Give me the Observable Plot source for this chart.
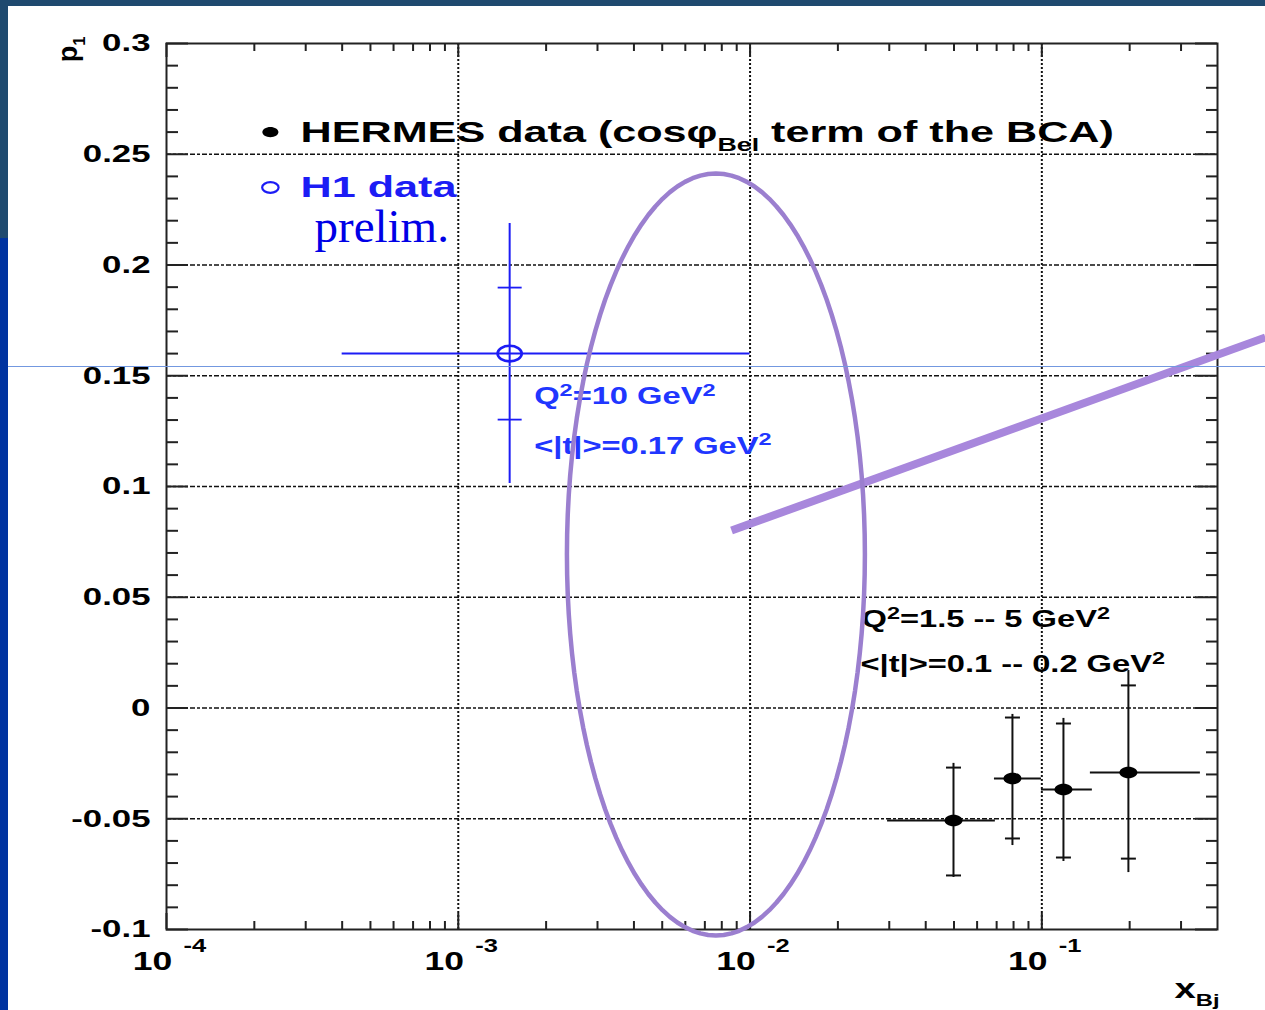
<!DOCTYPE html>
<html><head><meta charset="utf-8">
<script src="https://cdn.jsdelivr.net/npm/d3@7"></script>
<script src="https://cdn.jsdelivr.net/npm/@observablehq/plot@0.6"></script>
<style>
html,body{margin:0;padding:0;background:#fff;}
#page{position:relative;width:1265px;height:1010px;overflow:hidden;background:#fff;}
.deco{position:absolute;}
#chart{position:absolute;left:0;top:0;}
</style></head><body>
<div id="page">
  <div class="deco" style="left:0;top:0;width:1265px;height:6px;background:#1f4a6f"></div>
  <div class="deco" style="left:0;top:0;width:8px;height:238px;background:#1f4a6f"></div>
  <div class="deco" style="left:0;top:238px;width:8px;height:772px;background:#0033a0"></div>
  <div id="chart"></div>
  <div class="deco" style="left:8px;top:366px;width:1257px;height:1px;background:#7398e0"></div>
</div>
<script>
// ---------- data ----------
// HERMES (cos phi_Bel term of the BCA)
const hermesX    = [0.0498, 0.0793, 0.1186, 0.198];
const hermesY    = [-0.0508, -0.0318, -0.0368, -0.0291];
const hermesXLo  = [0.0296, 0.0688, 0.0997, 0.1467];
const hermesXHi  = [0.0693, 0.0997, 0.149, 0.3495];
const hermesYLo  = [-0.0765, -0.0621, -0.0693, -0.0743];
const hermesYHi  = [-0.025, -0.0029, -0.0047, 0.0169];
const hermesCapLo = [-0.0756, -0.0589, -0.0675, -0.068];
const hermesCapHi = [-0.0269, -0.0043, -0.007, 0.0102];

// H1 preliminary
const h1X = [0.0015];
const h1Y = [0.160];
const h1XLo = [0.0004];
const h1XHi = [0.01];
const h1YLo = [0.1014];
const h1YHi = [0.2187];
const h1StatLo = [0.1302];
const h1StatHi = [0.1898];

// axes
const yTickValues = [0.3, 0.25, 0.2, 0.15, 0.1, 0.05, 0, -0.05, -0.1];
const yTickLabels = ["0.3", "0.25", "0.2", "0.15", "0.1", "0.05", "0", "-0.05", "-0.1"];
const xTickValues = [1e-4, 1e-3, 1e-2, 1e-1];
const xTickBase = ["10", "10", "10", "10"];
const xTickExp = ["-4", "-3", "-2", "-1"];
const gridY = [0.25, 0.2, 0.15, 0.1, 0.05, 0, -0.05];
const gridX = [1e-3, 1e-2, 1e-1];

// legend / annotations
const legendMarkX = [2.27e-4];
const legendTextX = [2.88e-4];
const legendY = [0.2600, 0.2350];
const legendLabels = ["HERMES data (cos\u03c6_{Bel} term of the BCA)", "H1 data"];
const prelimText = ["prelim."];
const prelimX = [3.215e-4];
const prelimY = [0.2172];
const h1NoteX = [0.00182, 0.00182];
const h1NoteY = [0.1404, 0.1182];
const h1NoteText = ["Q^2=10 GeV^2", "<|t|>=0.17 GeV^2"];
const hermesNoteX = [0.0241, 0.0239];
const hermesNoteY = [0.0397, 0.0194];
const hermesNoteText = ["Q^2=1.5 -- 5 GeV^2", "<|t|>=0.1 -- 0.2 GeV^2"];

// slide overlay: ellipse around 10^-2 region and a pointer line
const ellipseCx = 0.007638, ellipseCy = 0.0693, ellipseRxDec = 0.5106, ellipseRy = 0.172;
const slantX = [0.00864, 0.5838];
const slantY = [0.0801, 0.1673];

// ---------- derived ----------
const yMinor = d3.range(-9, 30).filter(i => i % 5 !== 0).map(i => i / 100);
const xMinor = [];
for (let k = -4; k <= -1; k++) for (let m = 2; m <= 9; m++) { const v = m * 10 ** k; if (v < 0.4) xMinor.push(v); }

const hermes = hermesX.map((x, i) => ({x, y: hermesY[i], xlo: hermesXLo[i], xhi: hermesXHi[i], ylo: hermesYLo[i], yhi: hermesYHi[i], clo: hermesCapLo[i], chi: hermesCapHi[i]}));
const h1 = h1X.map((x, i) => ({x, y: h1Y[i], xlo: h1XLo[i], xhi: h1XHi[i], ylo: h1YLo[i], yhi: h1YHi[i], slo: h1StatLo[i], shi: h1StatHi[i]}));
const hermesCaps = hermes.flatMap(d => [{x: d.x, y: d.clo}, {x: d.x, y: d.chi}]);
const h1Caps = h1.flatMap(d => [{x: d.x, y: d.slo}, {x: d.x, y: d.shi}]);
const ellipsePts = d3.range(0, 361, 3).map(a => {
  const t = a * Math.PI / 180;
  return {x: 10 ** (Math.log10(ellipseCx) + ellipseRxDec * Math.cos(t)), y: ellipseCy + ellipseRy * Math.sin(t)};
});
const slant = slantX.map((x, i) => ({x, y: slantY[i]}));

// custom symbols
const ASPECT = 1.55;
const ellipseSymbol = {draw(ctx, size) {
  const r = Math.sqrt(size / Math.PI), rx = r * ASPECT, ry = r, k = 0.5523;
  ctx.moveTo(rx, 0);
  ctx.bezierCurveTo(rx, k * ry, k * rx, ry, 0, ry);
  ctx.bezierCurveTo(-k * rx, ry, -rx, k * ry, -rx, 0);
  ctx.bezierCurveTo(-rx, -k * ry, -k * rx, -ry, 0, -ry);
  ctx.bezierCurveTo(k * rx, -ry, rx, -k * ry, rx, 0);
  ctx.closePath();
}};
const capSymbol = {draw(ctx, size) {
  const r = Math.sqrt(size / Math.PI);
  ctx.moveTo(-r, 0); ctx.lineTo(r, 0);
}};

const W = 1265, H = 1010, ML = 166, MR = 48, MT = 43, MB = 81;
const FW = W - ML - MR, FH = H - MT - MB;
const BLUE = "#1c1cf5", NOTEBLUE = "#2036ff", INK = "#111";
const SANS = "Liberation Sans, Arial, Helvetica, sans-serif";

const chart = Plot.plot({
  width: W, height: H,
  marginLeft: ML, marginRight: MR, marginTop: MT, marginBottom: MB,
  x: {type: "log", domain: [1e-4, 0.4], axis: null},
  y: {domain: [-0.1, 0.3], axis: null},
  style: {background: "transparent", fontFamily: SANS, overflow: "visible"},
  marks: [
    // grid
    Plot.ruleY(gridY, {stroke: INK, strokeWidth: 1.4, strokeDasharray: "5,2,3,2"}),
    Plot.ruleX(gridX, {stroke: INK, strokeWidth: 2, strokeDasharray: "2,2"}),
    // ticks
    Plot.tickY(yMinor, {insetRight: FW - 12, stroke: "#222", strokeWidth: 2}),
    Plot.tickY(yTickValues, {insetRight: FW - 22, stroke: "#222", strokeWidth: 2}),
    Plot.tickY(yMinor, {insetLeft: FW - 11, stroke: "#222", strokeWidth: 2}),
    Plot.tickY(yTickValues, {insetLeft: FW - 22, stroke: "#222", strokeWidth: 2}),
    Plot.tickX(xMinor, {insetBottom: FH - 8, stroke: "#222", strokeWidth: 2}),
    Plot.tickX(xTickValues, {insetBottom: FH - 14, stroke: "#222", strokeWidth: 2}),
    Plot.tickX(xMinor, {insetTop: FH - 8, stroke: "#222", strokeWidth: 2}),
    Plot.tickX(xTickValues, {insetTop: FH - 16, stroke: "#222", strokeWidth: 2}),
    Plot.frame({stroke: "#222", strokeWidth: 2}),
    // tick labels
    Plot.text(yTickValues, {y: d => d, text: (d, i) => yTickLabels[i], frameAnchor: "left", dx: -16, textAnchor: "end", fontSize: 24.5, fontWeight: "bold", fill: "#000"}),
    Plot.text(xTickValues, {x: d => d, text: (d, i) => xTickBase[i], frameAnchor: "bottom", dx: -14, dy: 40, textAnchor: "middle", fontSize: 25, fontWeight: "bold", fill: "#000"}),
    Plot.text(xTickValues, {x: d => d, text: (d, i) => xTickExp[i], frameAnchor: "bottom", dx: 17, dy: 22, textAnchor: "start", fontSize: 18, fontWeight: "bold", fill: "#000"}),
    Plot.text(["x_{Bj}"], {frameAnchor: "bottom-right", textAnchor: "end", dx: 2, dy: 68, fontSize: 27, fontWeight: "bold", fill: "#000"}),
    Plot.text(["p_1"], {frameAnchor: "top-left", rotate: -90, textAnchor: "end", dx: -109, dy: -7, fontSize: 27, fontWeight: "bold", fill: "#000"}),
    // HERMES error bars
    Plot.ruleY(hermes, {y: "y", x1: "xlo", x2: "xhi", stroke: INK, strokeWidth: 2}),
    Plot.ruleX(hermes, {x: "x", y1: "ylo", y2: "yhi", stroke: INK, strokeWidth: 2}),
    Plot.dot(hermesCaps, {x: "x", y: "y", symbol: capSymbol, r: 7.5, stroke: INK, strokeWidth: 2, fill: "none"}),
    Plot.dot(hermes, {x: "x", y: "y", symbol: ellipseSymbol, r: 5.8, fill: "#000", stroke: "none"}),
    // H1 error bars
    Plot.ruleY(h1, {y: "y", x1: "xlo", x2: "xhi", stroke: BLUE, strokeWidth: 2}),
    Plot.ruleX(h1, {x: "x", y1: "ylo", y2: "yhi", stroke: BLUE, strokeWidth: 2}),
    Plot.dot(h1Caps, {x: "x", y: "y", symbol: capSymbol, r: 12, stroke: BLUE, strokeWidth: 1.8, fill: "none"}),
    Plot.dot(h1, {x: "x", y: "y", symbol: ellipseSymbol, r: 7.8, fill: "none", stroke: BLUE, strokeWidth: 2.6}),
    // legend
    Plot.dot([0], {x: () => legendMarkX[0], y: () => legendY[0], symbol: ellipseSymbol, r: 5.2, fill: "#000", stroke: "none"}),
    Plot.dot([1], {x: () => legendMarkX[0], y: () => legendY[1], symbol: ellipseSymbol, r: 5.3, fill: "none", stroke: BLUE, strokeWidth: 2.2}),
    Plot.text([0], {x: () => legendTextX[0], y: () => legendY[0], text: () => legendLabels[0], textAnchor: "start", fontSize: 30.4, fontWeight: "bold", fill: "#000"}),
    Plot.text([1], {x: () => legendTextX[0], y: () => legendY[1], text: () => legendLabels[1], textAnchor: "start", fontSize: 30.4, fontWeight: "bold", fill: BLUE}),
    Plot.text(prelimText, {x: () => prelimX[0], y: () => prelimY[0], textAnchor: "start", fontSize: 47, fontFamily: "Liberation Serif, Times New Roman, serif", fill: "#0000e6"}),
    // annotations
    Plot.text(h1NoteText, {x: (d, i) => h1NoteX[i], y: (d, i) => h1NoteY[i], textAnchor: "start", fontSize: 23, fontWeight: "bold", fill: NOTEBLUE}),
    Plot.text(hermesNoteText, {x: (d, i) => hermesNoteX[i], y: (d, i) => hermesNoteY[i], textAnchor: "start", fontSize: 23, fontWeight: "bold", fill: "#000"}),
    // slide overlay
    Plot.line(slant, {x: "x", y: "y", stroke: "#a887dc", strokeWidth: 8, strokeLinecap: "butt"}),
    Plot.line(ellipsePts, {x: "x", y: "y", stroke: "#9b7fcf", strokeWidth: 4.5})
  ]
});
document.getElementById("chart").appendChild(chart);

// rich text: ^ superscripts, _ subscripts, and ROOT-like horizontal stretch
const STRETCH = 1.42;
const NS = "http://www.w3.org/2000/svg";
chart.querySelectorAll("text").forEach(t => {
  const s = t.textContent;
  const cs = getComputedStyle(t);
  const fs = parseFloat(cs.fontSize);
  if (/[\^_]/.test(s)) {
    const parts = [];
    const re = /([\^_])(\{([^}]*)\}|(.))/g;
    let last = 0, m;
    while ((m = re.exec(s))) {
      if (m.index > last) parts.push({text: s.slice(last, m.index), kind: "n"});
      parts.push({text: m[3] !== undefined ? m[3] : m[4], kind: m[1] === "^" ? "sup" : "sub"});
      last = re.lastIndex;
    }
    if (last < s.length) parts.push({text: s.slice(last), kind: "n"});
    t.textContent = "";
    let shift = 0;
    for (const p of parts) {
      const ts = document.createElementNS(NS, "tspan");
      const target = p.kind === "sup" ? -0.38 * fs : p.kind === "sub" ? 0.3 * fs : 0;
      if (target !== shift) ts.setAttribute("dy", target - shift);
      shift = target;
      if (p.kind === "sup") ts.setAttribute("font-size", 0.72 * fs);
      if (p.kind === "sub") ts.setAttribute("font-size", 0.62 * fs);
      ts.textContent = p.text;
      t.appendChild(ts);
    }
  }
  const tr = (t.getAttribute("transform") || "") + (t.parentNode.getAttribute("transform") || "");
  if (/serif/i.test(cs.fontFamily) && !/sans/i.test(cs.fontFamily)) return;
  if (/rotate/.test(tr)) return;
  const len = t.getComputedTextLength();
  t.setAttribute("textLength", (len * STRETCH).toFixed(1));
  t.setAttribute("lengthAdjust", "spacingAndGlyphs");
});
</script>
</body></html>
